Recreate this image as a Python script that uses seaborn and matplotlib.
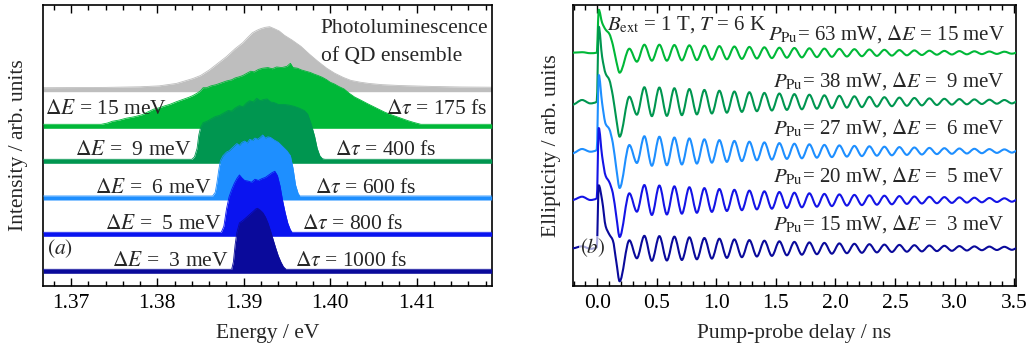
import numpy as np
import matplotlib
matplotlib.use("Agg")
import matplotlib.pyplot as plt
from matplotlib.path import Path
from matplotlib.patches import PathPatch
from matplotlib.ticker import MultipleLocator, FormatStrFormatter
import seaborn as sns

# ===================== DATA =====================
# ---- Panel (a): spectra, (energy eV, normalised intensity)
pl_spectrum = [(1.3668, 0.0), (1.3740, 0.005), (1.3780, 0.015), (1.3802, 0.03), (1.3822, 0.07),
               (1.3841, 0.15), (1.3850, 0.20), (1.3860, 0.29), (1.3870, 0.40), (1.3880, 0.51),
               (1.3890, 0.64), (1.3899, 0.74), (1.3905, 0.83), (1.3910, 0.90), (1.3915, 0.94),
               (1.3920, 0.97), (1.3925, 0.99), (1.3930, 1.0), (1.3935, 0.97), (1.3941, 0.93),
               (1.3947, 0.86), (1.3956, 0.78), (1.3966, 0.68), (1.3976, 0.55), (1.3986, 0.43),
               (1.3996, 0.32), (1.4005, 0.24), (1.4015, 0.17), (1.4024, 0.12), (1.4035, 0.09),
               (1.4045, 0.07), (1.4060, 0.05), (1.4082, 0.035), (1.4120, 0.02), (1.4150, 0.012),
               (1.4187, 0.008)]
spec_15mev = [(1.3668, 0), (1.3735, 0), (1.3742, 0.02), (1.3748, 0.05), (1.3756, 0.07), (1.3764, 0.10),
              (1.3772, 0.12), (1.3778, 0.14), (1.3783, 0.16), (1.3790, 0.21), (1.3796, 0.25),
              (1.3802, 0.27), (1.3808, 0.30), (1.3815, 0.33), (1.3822, 0.37), (1.3830, 0.41),
              (1.3836, 0.44), (1.3841, 0.47), (1.3846, 0.51), (1.3850, 0.55), (1.3853, 0.60),
              (1.3857, 0.60), (1.3862, 0.63), (1.3868, 0.65), (1.3874, 0.68), (1.3880, 0.71),
              (1.3886, 0.73), (1.3890, 0.76), (1.3895, 0.78), (1.3899, 0.80), (1.3904, 0.84),
              (1.3908, 0.87), (1.3912, 0.86), (1.3917, 0.90), (1.3922, 0.92), (1.3928, 0.93),
              (1.3933, 0.91), (1.3938, 0.94), (1.3944, 0.93), (1.3950, 0.95), (1.3954, 1.0),
              (1.3957, 0.93), (1.3962, 0.92), (1.3967, 0.89), (1.3972, 0.87), (1.3977, 0.85),
              (1.3982, 0.82), (1.3986, 0.80), (1.3991, 0.77), (1.3996, 0.73), (1.4000, 0.69),
              (1.4005, 0.66), (1.4010, 0.62), (1.4016, 0.58), (1.4022, 0.51), (1.4028, 0.45),
              (1.4035, 0.40), (1.4043, 0.34), (1.4053, 0.27), (1.4063, 0.20), (1.4072, 0.15),
              (1.4082, 0.10), (1.4090, 0.06), (1.4097, 0.03), (1.4105, 0.0), (1.4187, 0)]
spec_9mev = [(1.3668, 0), (1.3840, 0), (1.3843, 0.04), (1.3846, 0.18), (1.3848, 0.40), (1.3850, 0.52),
             (1.3853, 0.60), (1.3857, 0.62), (1.3862, 0.66), (1.3867, 0.70), (1.3872, 0.72),
             (1.3877, 0.76), (1.3882, 0.80), (1.3886, 0.79), (1.3890, 0.84), (1.3895, 0.88),
             (1.3899, 0.86), (1.3903, 0.92), (1.3907, 0.96), (1.3911, 0.94), (1.3915, 1.0),
             (1.3919, 0.96), (1.3923, 0.98), (1.3927, 0.99), (1.3931, 0.94), (1.3935, 0.93),
             (1.3940, 0.90), (1.3946, 0.90), (1.3952, 0.89), (1.3958, 0.87), (1.3964, 0.84),
             (1.3970, 0.80), (1.3974, 0.74), (1.3978, 0.58), (1.3982, 0.38), (1.3985, 0.18),
             (1.3988, 0.06), (1.3991, 0.01), (1.3994, 0), (1.4187, 0)]
spec_6mev = [(1.3668, 0), (1.3864, 0), (1.3867, 0.06), (1.3869, 0.22), (1.3871, 0.42), (1.3873, 0.58),
             (1.3876, 0.66), (1.3880, 0.72), (1.3883, 0.74), (1.3886, 0.78), (1.3889, 0.82),
             (1.3892, 0.86), (1.3895, 0.83), (1.3898, 0.88), (1.3901, 0.90), (1.3904, 0.87),
             (1.3907, 0.93), (1.3910, 0.91), (1.3913, 0.95), (1.3916, 0.93), (1.3919, 0.96),
             (1.3922, 1.0), (1.3925, 0.95), (1.3928, 0.97), (1.3931, 0.96), (1.3935, 0.92),
             (1.3940, 0.88), (1.3945, 0.81), (1.3950, 0.74), (1.3954, 0.66), (1.3957, 0.46),
             (1.3960, 0.18), (1.3963, 0.04), (1.3965, 0.0), (1.4187, 0)]
spec_5mev = [(1.3668, 0), (1.3874, 0), (1.3877, 0.10), (1.3880, 0.38), (1.3883, 0.58), (1.3886, 0.70),
             (1.3889, 0.80), (1.3892, 0.88), (1.3895, 0.94), (1.3898, 0.89), (1.3901, 0.85),
             (1.3905, 0.84), (1.3909, 0.82), (1.3913, 0.87), (1.3917, 0.85), (1.3921, 0.88),
             (1.3925, 0.90), (1.3929, 0.94), (1.3933, 0.98), (1.3936, 1.0), (1.3939, 0.93),
             (1.3942, 0.76), (1.3945, 0.52), (1.3948, 0.32), (1.3951, 0.15), (1.3954, 0.04),
             (1.3956, 0), (1.4187, 0)]
spec_3mev = [(1.3668, 0), (1.3886, 0), (1.3888, 0.12), (1.3890, 0.40), (1.3892, 0.60), (1.3895, 0.76),
             (1.3899, 0.80), (1.3903, 0.85), (1.3907, 0.90), (1.3911, 0.95), (1.3914, 0.99),
             (1.3916, 1.0), (1.3919, 0.97), (1.3922, 0.93), (1.3925, 0.86), (1.3928, 0.76),
             (1.3931, 0.63), (1.3934, 0.49), (1.3937, 0.35), (1.3940, 0.22), (1.3943, 0.12),
             (1.3946, 0.04), (1.3949, 0.0), (1.4187, 0)]
delta_e_labels = ["15", " 9", " 6", " 5", " 3"]
delta_tau_labels = ["175", "400", "600", "800", "1000"]

# ---- Panel (b): time-resolved ellipticity traces (delay ns, signal arb. units)
pump_power_mw = ["63", "38", "27", "20", "15"]
trace_delta_e = ["15", " 9", " 6", " 5", " 3"]
early_delay_ns = [-0.21, -0.128, -0.059, -0.005, 0.012, 0.04, 0.07, 0.10, 0.13, 0.16, 0.187, 0.269, 0.332]
early_63mw = [0, 0.5, -0.5, 0, 43, 30, 23, 19, 8, -9, -20, 4, -9]
early_38mw = [-3, 1.7, -1.7, 0, 75, 45, 28, 22, 6, -18, -35, 5, -13]
early_27mw = [-2.3, 2, -0.7, 1, 76, 48, 27, 22, 8, -18, -37, 6, -12]
early_20mw = [0, 3.3, 0, 1.7, 72, 44, 24, 18, 7, -17, -37, 6.7, -11.7]
early_15mw = [0, 2, -0.5, 1, 63, 48, 22, 14, 8, -14, -33, 8, -10]
osc_period_ns = 0.126
osc_first_peak_ns = 0.395
amp_63mw = [8.0, 8.0, 7.7, 7.4, 7.0, 6.6, 6.2, 5.8, 5.4, 5.0, 4.7, 4.4, 4.1, 3.8, 3.5, 3.2,
            2.9, 2.6, 2.3, 2.0, 1.8, 1.6, 1.4, 1.2, 1.0, 0.9]
amp_38mw = [14.5, 14.2, 13.5, 12.7, 11.8, 11.0, 10.2, 9.5, 8.8, 8.2, 7.6, 7.0, 6.4, 5.9, 5.4, 4.9,
            4.5, 4.1, 3.7, 3.3, 2.9, 2.6, 2.3, 2.0, 1.7, 1.5]
amp_27mw = [14.8, 14.3, 13.5, 12.6, 11.7, 10.9, 10.1, 9.3, 8.6, 7.9, 7.3, 6.7, 6.1, 5.6, 5.1, 4.7,
            4.3, 3.9, 3.5, 3.1, 2.8, 2.5, 2.2, 1.9, 1.6, 1.4]
amp_20mw = [15.0, 14.5, 13.7, 12.8, 11.9, 11.0, 10.2, 9.4, 8.7, 8.0, 7.3, 6.7, 6.1, 5.6, 5.1, 4.7,
            4.3, 3.9, 3.5, 3.2, 2.9, 2.6, 2.3, 2.0, 1.7, 1.5]
amp_15mw = [12.5, 12.2, 11.7, 11.0, 10.3, 9.6, 8.9, 8.2, 7.6, 7.0, 6.4, 5.9, 5.4, 4.9, 4.5, 4.1,
            3.7, 3.4, 3.1, 2.8, 2.5, 2.2, 1.9, 1.7, 1.5, 1.3]

# ===================== STYLE =====================
sns.set_theme(style="ticks")
plt.rcParams["font.family"] = ["Liberation Serif", "DejaVu Serif"]
plt.rcParams["mathtext.fontset"] = "stix"
FS = 15.5
FSB = 15.0
plt.rcParams["font.size"] = FS

spec_colors = ["#BEBEBE", "#00B838", "#009650", "#1E8FFF", "#0A14F0", "#0A0A9B"]
trace_colors = ["#00B838", "#009650", "#1E8FFF", "#1414E6", "#0A0A9B"]

W, H = 1035, 350
fig = plt.figure(figsize=(W / 100, H / 100), dpi=100)
AX_TOP, AX_BOT = 5, 286
axA_l, axA_r = 43.3, 491.7
axB_l, axB_r = 572.7, 1015.7
axA = fig.add_axes([axA_l / W, 1 - AX_BOT / H, (axA_r - axA_l) / W, (AX_BOT - AX_TOP) / H])
axB = fig.add_axes([axB_l / W, 1 - AX_BOT / H, (axB_r - axB_l) / W, (AX_BOT - AX_TOP) / H])


def fx(ax_l, ax_r, px):
    return (px - ax_l) / (ax_r - ax_l)


def fy(py):
    return (AX_BOT - py) / (AX_BOT - AX_TOP)


# ===================== PANEL (a) =====================
spectra = [pl_spectrum, spec_15mev, spec_9mev, spec_6mev, spec_5mev, spec_3mev]
base_levels = [196.3, 159.7, 124.7, 88.0, 51.7, 14.7]
peak_h = 61.0
band = 2.0
for i, (spec, base, col) in enumerate(zip(spectra, base_levels, spec_colors)):
    e = np.array([p[0] for p in spec])
    v = np.array([p[1] for p in spec])
    top = base + band + peak_h * v
    axA.fill_between(e, base - band, top, color=col, lw=0, zorder=2 + i)
    sns.lineplot(x=e, y=top, ax=axA, color=col, lw=0.6, sort=False, estimator=None, zorder=2 + i)

axA.set_xlim(1.3668, 1.4187)
axA.set_ylim(0, AX_BOT - AX_TOP)
axA.xaxis.set_major_locator(MultipleLocator(0.01))
axA.xaxis.set_minor_locator(MultipleLocator(0.002))
axA.xaxis.set_major_formatter(FormatStrFormatter("%.2f"))
axA.set_yticks([])
axA.set_xlabel("Energy / eV", fontsize=FS)
axA.set_ylabel("Intensity / arb. units", fontsize=FS)
axA.xaxis.set_label_coords(0.5, -(324 - AX_BOT) / (AX_BOT - AX_TOP))
axA.yaxis.set_label_coords(fx(axA_l, axA_r, 28.5), 0.5)

tA = dict(transform=axA.transAxes, fontsize=FS, zorder=20)
dE = r"$\mathit{\Delta E}$"
dT = r"$\mathit{\Delta\tau}$"
axA.text(fx(axA_l, axA_r, 320.7), fy(33.3), "Photoluminescence", ha="left", va="baseline", **tA)
axA.text(fx(axA_l, axA_r, 320.7), fy(61.5), "of QD ensemble", ha="left", va="baseline", **tA)
axA.text(fx(axA_l, axA_r, 45), fy(114), f"{dE} = {delta_e_labels[0]} meV", ha="left", va="baseline", **tA)
axA.text(fx(axA_l, axA_r, 488), fy(114), f"{dT} = {delta_tau_labels[0]} fs", ha="right", va="baseline", **tA)
de_right = [191.7, 211.7, 221.7, 228.3]
dt_left = [335, 315, 301.7, 295]
lab_base = [155, 193, 229, 266]
for k in range(4):
    axA.text(fx(axA_l, axA_r, de_right[k]), fy(lab_base[k]), f"{dE} = {delta_e_labels[k + 1]} meV",
             ha="right", va="baseline", **tA)
    axA.text(fx(axA_l, axA_r, dt_left[k]), fy(lab_base[k]), f"{dT} = {delta_tau_labels[k + 1]} fs",
             ha="left", va="baseline", **tA)
axA.text(fx(axA_l, axA_r, 46.7), fy(249), r"$(a)$", ha="left", va="center", **tA)


# ===================== PANEL (b) =====================
def smooth_path(t, y):
    t = np.asarray(t, float)
    y = np.asarray(y, float)
    h = np.diff(t)
    d = np.diff(y) / h
    m = np.zeros_like(y)
    for i in range(1, len(y) - 1):
        if d[i - 1] * d[i] > 0:
            h0, h1 = h[i - 1], h[i]
            m[i] = 3 * (h0 + h1) / ((2 * h1 + h0) / d[i - 1] + (h1 + 2 * h0) / d[i])
    verts = [(t[0], y[0])]
    codes = [Path.MOVETO]
    for i in range(len(t) - 1):
        hh = h[i]
        verts += [(t[i] + hh / 3, y[i] + m[i] * hh / 3),
                  (t[i + 1] - hh / 3, y[i + 1] - m[i + 1] * hh / 3),
                  (t[i + 1], y[i + 1])]
        codes += [Path.CURVE4] * 3
    return Path(verts, codes)


early_sets = [early_63mw, early_38mw, early_27mw, early_20mw, early_15mw]
amp_sets = [amp_63mw, amp_38mw, amp_27mw, amp_20mw, amp_15mw]
trace_base = [233.3, 184.3, 135.0, 86.0, 37.7]
for early, amps, base, col in zip(early_sets, amp_sets, trace_base, trace_colors):
    t_k = list(early_delay_ns)
    y_k = list(early)
    for k, a in enumerate(amps):
        tp = osc_first_peak_ns + k * osc_period_ns
        t_k += [tp, tp + osc_period_ns / 2]
        y_k += [a, -a]
    y_k = [base + v for v in y_k]
    axB.add_patch(PathPatch(smooth_path(t_k, y_k), fill=False, edgecolor=col, lw=1.5,
                            capstyle="round", joinstyle="round", zorder=3))

axB.set_xlim(-0.207, 3.514)
axB.set_ylim(0, AX_BOT - AX_TOP)
axB.xaxis.set_major_locator(MultipleLocator(0.5))
axB.xaxis.set_minor_locator(MultipleLocator(0.1))
axB.xaxis.set_major_formatter(FormatStrFormatter("%.1f"))
axB.set_yticks([])
axB.set_xlabel("Pump-probe delay / ns", fontsize=FS)
axB.set_ylabel("Ellipticity / arb. units", fontsize=FS)
axB.xaxis.set_label_coords(0.5, -(324 - AX_BOT) / (AX_BOT - AX_TOP))
axB.yaxis.set_label_coords(fx(axB_l, axB_r, 561), 0.5)

tB = dict(transform=axB.transAxes, fontsize=FSB, zorder=20)
axB.text(fx(axB_l, axB_r, 607.3), fy(30), r"$B_{\rm ext}$ = 1 T, $T$ = 6 K", ha="left", va="baseline", **tB)
p_base = [40, 86.7, 133.3, 181.7, 230]
for k in range(5):
    axB.text(fx(axB_l, axB_r, 1005), fy(p_base[k]),
             r"$P_{\rm Pu}$" + f"= {pump_power_mw[k]} mW, {dE} = {trace_delta_e[k]} meV",
             ha="right", va="baseline", **tB)
axB.text(fx(axB_l, axB_r, 580), fy(248), r"$(b)$", ha="left", va="center",
         bbox=dict(boxstyle="square,pad=0.05", fc="white", ec="none", alpha=0.65), **tB)

for ax in (axA, axB):
    for s in ax.spines.values():
        s.set_visible(True)
        s.set_linewidth(1.2)
        s.set_color("black")
    ax.tick_params(axis="x", which="both", direction="in", top=True, bottom=True,
                   labelsize=FS, pad=6, colors="black", width=1.0)
    ax.tick_params(axis="x", which="major", length=6)
    ax.tick_params(axis="x", which="minor", length=3.5)
    ax.set_facecolor("white")

fig.savefig("out.png", dpi=100, facecolor="white")
